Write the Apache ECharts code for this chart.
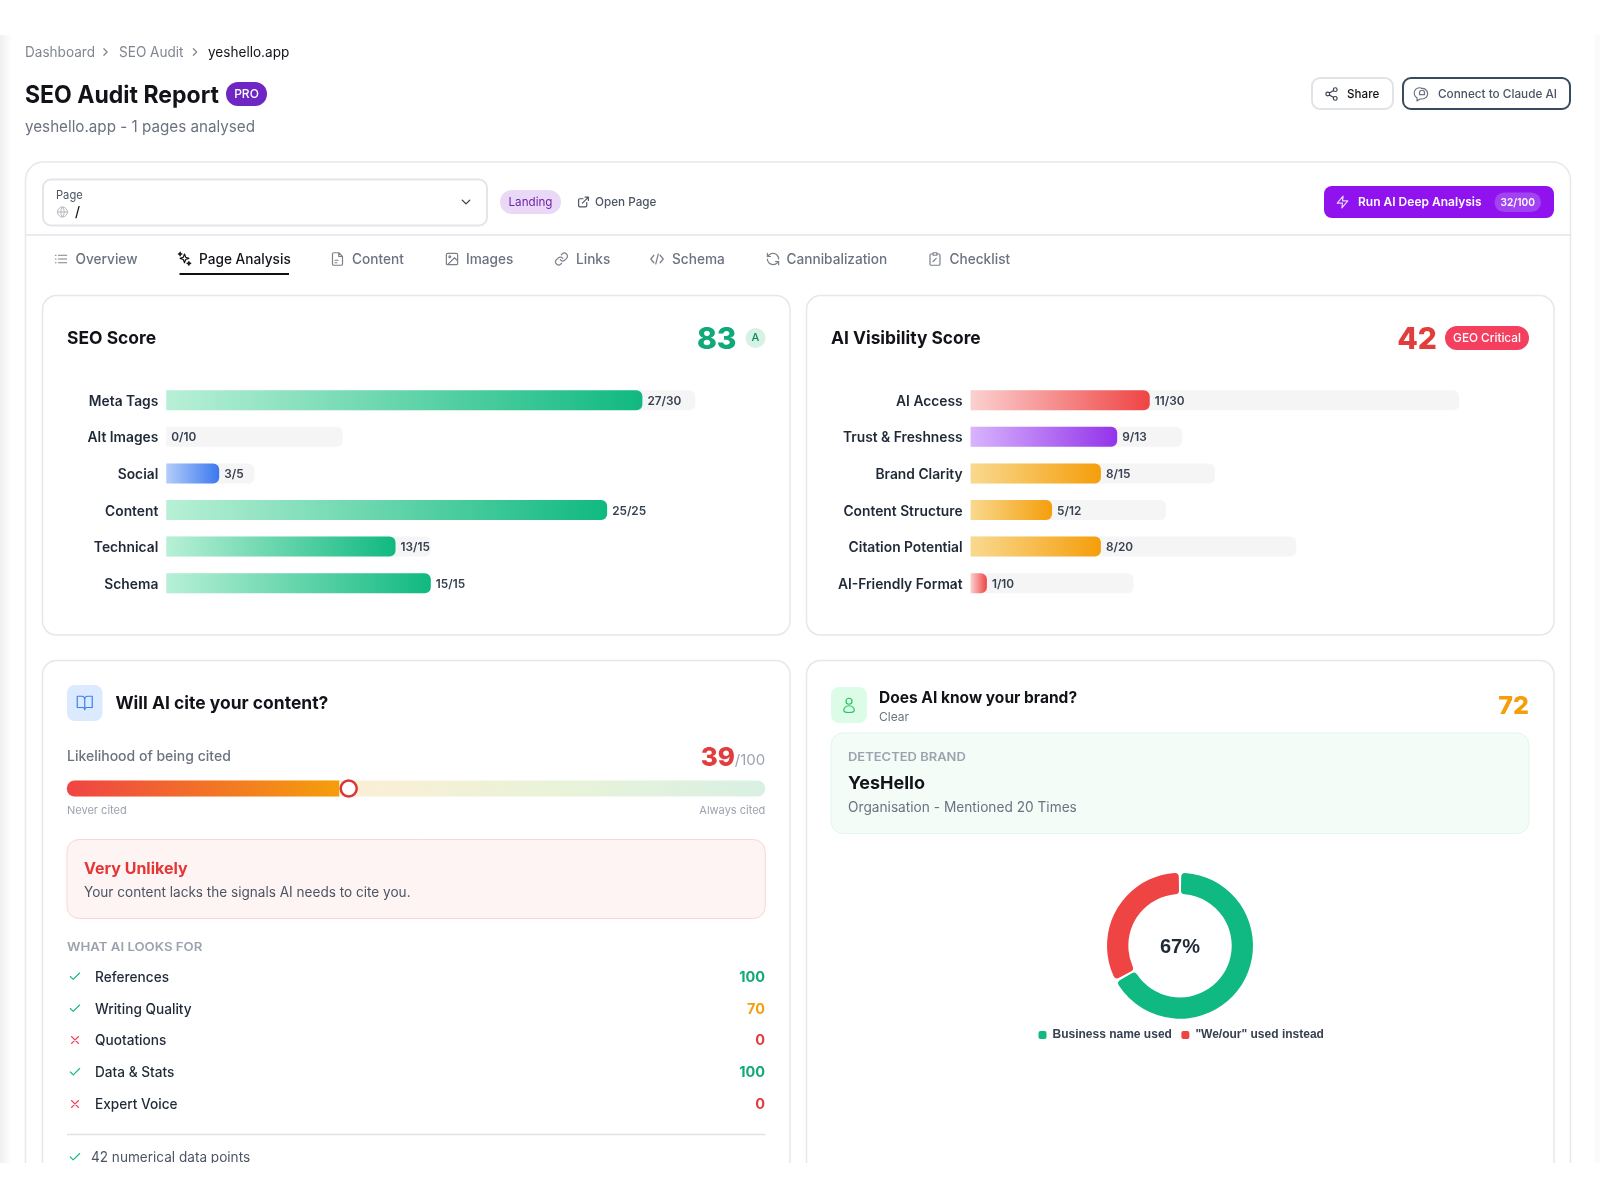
<!DOCTYPE html>
<html>
<head>
<meta charset="utf-8">
<title>SEO Audit Report</title>
<style>
  html, body { margin: 0; background: #fff; }
  #main { width: 1600px; height: 1200px; }
</style>
<script src="https://cdn.jsdelivr.net/npm/echarts@6/dist/echarts.min.js"></script>
</head>
<body>
<div id="main"></div>
<script>
// chart data
const seoCategories = ['Meta Tags', 'Alt Images', 'Social', 'Content', 'Technical', 'Schema'];
const seoValues = [27, 0, 3, 25, 13, 15];
const seoMaxes = [30, 10, 5, 25, 15, 15];

const aiCategories = ['AI Access', 'Trust & Freshness', 'Brand Clarity', 'Content Structure', 'Citation Potential', 'AI-Friendly Format'];
const aiValues = [11, 9, 8, 5, 8, 1];
const aiMaxes = [30, 13, 15, 12, 20, 10];

const citeLikelihood = 39;
const citeScale = 100;

const signalNames = ['References', 'Writing Quality', 'Quotations', 'Data & Stats', 'Expert Voice'];
const signalScores = [100, 70, 0, 100, 0];

const brandNames = ['Business name used', '"We/our" used instead'];
const brandShares = [67, 33];

const tabNames = ['Overview', 'Page Analysis', 'Content', 'Images', 'Links', 'Schema', 'Cannibalization', 'Checklist'];

// bar colour per row
const seoRamps = ['green', 'green', 'blue', 'green', 'green', 'green'];
const aiRamps = ['red', 'purple', 'amber', 'amber', 'amber', 'red'];
const ramps = {
  green: ['#b8f0d6', '#10b981'],
  blue: ['#b3cdfa', '#3b78ee'],
  red: ['#fcd0d0', '#ef4444'],
  purple: ['#d8b4fe', '#9333ea'],
  amber: ['#f9d98f', '#f59e0b']
};

const SANS = 'Inter';
const ICONS = {
  chevronRight: 'M9 18l6-6-6-6',
  chevronDown: 'M6 9l6 6 6-6',
  share: 'M21 5a3 3 0 1 1-6 0 3 3 0 0 1 6 0z M9 12a3 3 0 1 1-6 0 3 3 0 0 1 6 0z M21 19a3 3 0 1 1-6 0 3 3 0 0 1 6 0z M8.6 13.5l6.8 4 M15.4 6.5l-6.8 4',
  chat: 'M21 11.5a8.5 8.5 0 0 1-8.5 8.5H9l-5 3v-5a8.5 8.5 0 0 1 8-15 8.5 8.5 0 0 1 9 8.5z M8 10a4 4 0 0 1 8 0v3H8z',
  globe: 'M22 12a10 10 0 1 1-20 0 10 10 0 0 1 20 0z M2 12h20 M12 2a15 15 0 0 1 0 20 M12 2a15 15 0 0 0 0 20',
  external: 'M18 13v6a2 2 0 0 1-2 2H5a2 2 0 0 1-2-2V8a2 2 0 0 1 2-2h6 M15 3h6v6 M10 14L21 3',
  bolt: 'M13 2L3 14h9l-1 8 10-12h-9l1-8z',
  list: 'M8 6h13 M8 12h13 M8 18h13 M3 6h1 M3 12h1 M3 18h1',
  sparkles: 'M12 4l1.9 5.1L19 11l-5.1 1.9L12 18l-1.9-5.1L5 11l5.1-1.9z M19 16l.8 2.2 2.2.8-2.2.8L19 22l-.8-2.2-2.2-.8 2.2-.8z M5 1l.8 2.2L8 4l-2.2.8L5 7l-.8-2.2L2 4l2.2-.8z',
  file: 'M14 2H6a2 2 0 0 0-2 2v16a2 2 0 0 0 2 2h12a2 2 0 0 0 2-2V8z M14 2v6h6 M8 14h5 M8 18h3',
  image: 'M5 3h14a2 2 0 0 1 2 2v14a2 2 0 0 1-2 2H5a2 2 0 0 1-2-2V5a2 2 0 0 1 2-2z M21 15l-5-5L5 21 M10 8.5a1.5 1.5 0 1 1-3 0 1.5 1.5 0 0 1 3 0z',
  link: 'M10 13a5 5 0 0 0 7.5.5l3-3a5 5 0 0 0-7-7l-1.7 1.7 M14 11a5 5 0 0 0-7.5-.5l-3 3a5 5 0 0 0 7 7l1.7-1.7',
  code: 'M17 18l5-6-5-6 M7 6l-5 6 5 6 M14 4l-4 16',
  refresh: 'M21 12a9 9 0 0 0-15-6.7L3 8 M3 3v5h5 M3 12a9 9 0 0 0 15 6.7l3-2.7 M21 21v-5h-5',
  clipboard: 'M9 2h6v4H9z M16 4h2a2 2 0 0 1 2 2v14a2 2 0 0 1-2 2H6a2 2 0 0 1-2-2V6a2 2 0 0 1 2-2h2 M9 16l5-5',
  book: 'M2 3h6a4 4 0 0 1 4 4v14a3 3 0 0 0-3-3H2z M22 3h-6a4 4 0 0 0-4 4v14a3 3 0 0 1 3-3h7z',
  user: 'M16 7a4 4 0 1 1-8 0 4 4 0 0 1 8 0z M12 13c-4 0-7 3-7 6 0 2 3 3 7 3s7-1 7-3c0-3-3-6-7-6z',
  check: 'M20 6L9 17l-5-5',
  cross: 'M18 6L6 18 M6 6l12 12'
};
// graphic has no path element, so every icon is registered as a shape
Object.keys(ICONS).forEach(name => {
  echarts.graphic.registerShape('icon_' + name, echarts.graphic.extendPath(ICONS[name], {}));
});

// graphic helpers for the page around the charts
// the screenshot font is a touch tighter than the installed Inter, hence the default scaleX
function text(str, x, y, size, weight, fill, opts) {
  opts = opts || {};
  return {
    type: 'text', x: x, y: y + size * 0.09, z: 5, scaleX: opts.scaleX || 0.97,
    style: {
      text: str, fill: fill,
      font: weight + ' ' + size + 'px ' + (opts.family || SANS),
      align: opts.align || 'left', verticalAlign: 'middle',
      textAlign: opts.align || 'left', textVerticalAlign: 'middle'
    }
  };
}
function box(x, y, x2, y2, r, fill, stroke, lineWidth) {
  return {
    type: 'rect', z: 1,
    shape: { x: x, y: y, width: x2 - x, height: y2 - y, r: r },
    style: { fill: fill || '#fff', stroke: stroke || 'none', lineWidth: lineWidth || 0 }
  };
}
function hline(x, x2, y, color, width) {
  return { type: 'line', z: 1, shape: { x1: x, y1: y, x2: x2, y2: y }, style: { stroke: color, lineWidth: width } };
}
function icon(name, cx, cy, size, color, lineWidth) {
  const s = size / 24;
  return {
    type: 'icon_' + name, z: 5,
    x: cx - size / 2, y: cy - size / 2, scaleX: s, scaleY: s,
    style: { fill: 'none', stroke: color, lineWidth: (lineWidth || 1.2) / s, lineCap: 'round', lineJoin: 'round' }
  };
}

const GREY = '#6b7280';
const INK = '#111318';
const LINE = '#e5e7eb';
const GREEN = '#10a97a';
const RED = '#e23d3d';
const AMBER = '#f59e0b';
const SCORE_COLOR = v => (v >= 100 ? GREEN : v > 0 ? AMBER : RED);

const els = [];

// page edge shading
els.push({
  type: 'rect', z: 0, shape: { x: 0, y: 35, width: 12, height: 1128 },
  style: { fill: new echarts.graphic.LinearGradient(0, 0, 1, 0, [{ offset: 0, color: '#efefef' }, { offset: 1, color: '#ffffff' }]) }
});
els.push({ type: 'rect', z: 0, shape: { x: 1595, y: 35, width: 5, height: 1128 }, style: { fill: '#fafafa' } });

// breadcrumb
els.push(text('Dashboard', 25, 52, 14, 400, '#808690'));
els.push(icon('chevronRight', 105.5, 52, 13, '#808690'));
els.push(text('SEO Audit', 119, 52, 14, 400, '#808690'));
els.push(icon('chevronRight', 195, 52, 13, '#808690'));
els.push(text('yeshello.app', 208, 52, 14, 400, INK));

// heading
els.push(text('SEO Audit Report', 25, 94, 24, 700, INK, { scaleX: 0.96 }));
els.push(box(226, 82, 267, 106, 12, '#6f27c4'));
els.push(text('PRO', 246.5, 93, 12, 500, '#fff', { align: 'center', scaleX: 1 }));
els.push(text('yeshello.app - 1 pages analysed', 25, 125.5, 16, 400, GREY, { scaleX: 0.95 }));

els.push(box(1312, 78, 1393, 109, 8, '#fff', '#e1e3e7', 2));
els.push(icon('share', 1331.5, 94, 15, '#374151'));
els.push(text('Share', 1347, 93, 12, 500, INK));
els.push(box(1403, 78, 1570, 109, 8, '#fff', '#374a5f', 2));
els.push(icon('chat', 1422, 94, 15, GREY));
els.push(text('Connect to Claude AI', 1438, 93, 12, 500, '#4b5563', { scaleX: 0.98 }));

// main panel
els.push(box(25.5, 162, 1570.5, 1300, 18, '#fff', '#e6e8eb', 1.5));
els.push(hline(25.5, 1570.5, 235, '#e3e5e8', 1.5));
els.push(box(43, 179.5, 487, 225.5, 8, '#fff', '#e3e5e8', 2));
els.push(text('Page', 56, 195, 11.5, 400, '#4b5563'));
els.push(icon('globe', 62.5, 212, 12, '#b4b8be', 1));
els.push(text('/', 75, 212, 14, 500, INK));
els.push(icon('chevronDown', 466, 202, 15, '#374151', 1.4));
els.push(box(500, 190, 561, 214, 12, '#ead9f6'));
els.push(text('Landing', 530.5, 201.3, 12, 400, '#6b21a8', { align: 'center' }));
els.push(icon('external', 583.5, 202, 13, '#4b5563'));
els.push(text('Open Page', 595, 201, 12, 500, '#4b5563', { scaleX: 0.975 }));
els.push(box(1324, 186, 1554, 218, 8, '#9012ee'));
els.push(icon('bolt', 1342.5, 202, 14, '#e9d5ff'));
els.push(text('Run AI Deep Analysis', 1358, 201.5, 12, 600, '#fff', { scaleX: 1 }));
els.push(box(1494.5, 192.5, 1541, 212, 10, '#a243f1'));
els.push(text('32/100', 1517.75, 201.7, 10.5, 600, '#fff', { align: 'center' }));

// tabs
const tabIcons = ['list', 'sparkles', 'file', 'image', 'link', 'code', 'refresh', 'clipboard'];
const tabIconX = [61, 184.5, 337.5, 452, 561.5, 657, 773, 935];
const tabTextX = [75.5, 199, 352, 466, 576, 672, 786.5, 949.5];
tabNames.forEach((name, i) => {
  const active = i === 1;
  els.push(icon(tabIcons[i], tabIconX[i], 259, 15, active ? INK : '#7b818b'));
  els.push(text(name, tabTextX[i], 258.3, 14, 500, active ? INK : GREY, { scaleX: 0.975 }));
});
els.push(hline(179.5, 289, 274, '#111', 2));

// SEO score card
els.push(box(42.5, 295.5, 790, 635, 14, '#fff', LINE, 1.5));
els.push(text('SEO Score', 67, 337, 18, 700, INK, { scaleX: 0.97 }));
els.push(text('83', 736.5, 337.5, 30, 800, GREEN, { align: 'right', scaleX: 1 }));
els.push({ type: 'circle', z: 1, shape: { cx: 755.5, cy: 338, r: 10 }, style: { fill: '#d5f2e4' } });
els.push(text('A', 755.5, 337, 11, 500, '#0f8a5f', { align: 'center', scaleX: 1 }));

// AI visibility card
els.push(box(806.5, 295.5, 1554, 635, 14, '#fff', LINE, 1.5));
els.push(text('AI Visibility Score', 831, 337, 18, 700, INK, { scaleX: 0.965 }));
els.push(text('42', 1437, 337.5, 30, 800, RED, { align: 'right', scaleX: 1 }));
els.push(box(1445, 326, 1529, 350, 12, '#f43f5e'));
els.push(text('GEO Critical', 1487, 337, 12, 500, '#fff', { align: 'center', scaleX: 0.98 }));

// citation card
els.push(box(42.5, 660.5, 790, 1300, 14, '#fff', LINE, 1.5));
els.push(box(67, 685, 102.5, 721, 8, '#dbeafe'));
els.push(icon('book', 84.75, 703, 18, '#3b82f6'));
els.push(text('Will AI cite your content?', 115.5, 702, 18, 700, INK));
els.push(text('Likelihood of being cited', 67, 756, 14, 500, GREY, { scaleX: 1 }));
els.push(text(String(citeLikelihood), 735, 756, 26, 800, RED, { align: 'right', scaleX: 1 }));
els.push(text('/' + citeScale, 765.3, 759.5, 15, 400, '#9ca3af', { align: 'right', scaleX: 1 }));
els.push(text('Never cited', 67, 810, 11, 400, '#9ca3af', { scaleX: 1 }));
els.push(text('Always cited', 765.3, 810, 11, 400, '#9ca3af', { align: 'right', scaleX: 1 }));
els.push(box(67, 839.5, 765.3, 918.5, 12, '#fef4f4', '#fbd5d5', 1));
els.push(text('Very Unlikely', 84, 867.5, 16, 700, '#e53535', { scaleX: 1 }));
els.push(text('Your content lacks the signals AI needs to cite you.', 84, 892, 14, 400, '#4b5563'));
els.push(text('WHAT AI LOOKS FOR', 67, 946, 12, 600, '#9ca3af', { scaleX: 1.1 }));
const signalY = [976.5, 1008.5, 1040, 1072, 1104];
signalNames.forEach((name, i) => {
  const ok = signalScores[i] > 0;
  els.push(icon(ok ? 'check' : 'cross', 75, signalY[i], 14, ok ? '#10b981' : '#f43f5e', 1.1));
  els.push(text(name, 95, signalY[i], 14, 500, '#1f2937', { scaleX: 0.975 }));
  els.push(text(String(signalScores[i]), 765, signalY[i] - 0.5, 14.5, 700, SCORE_COLOR(signalScores[i]), { align: 'right', scaleX: 1 }));
});
els.push(hline(67, 765.3, 1134.5, '#dfe1e5', 1.5));
els.push(icon('check', 75, 1157, 14, '#10b981', 1.1));
els.push(text('42 numerical data points', 91, 1157, 14, 400, '#4b5563'));

// brand card
els.push(box(806.5, 660.5, 1554, 1300, 14, '#fff', LINE, 1.5));
els.push(box(831, 687, 867, 723, 8, '#dcfce7'));
els.push(icon('user', 849, 705, 18, '#22c55e'));
els.push(text('Does AI know your brand?', 879, 696.6, 16, 700, INK, { scaleX: 0.97 }));
els.push(text('Clear', 879, 716, 12, 400, GREY, { scaleX: 1 }));
els.push(text('72', 1529, 704, 25, 800, AMBER, { align: 'right', scaleX: 1 }));
els.push(box(831, 733, 1529, 833.5, 12, '#f3fcf7', '#e2f7ec', 1));
els.push(text('DETECTED BRAND', 848, 756.3, 12, 600, '#9ca3af', { scaleX: 1.08 }));
els.push(text('YesHello', 848, 782, 18, 700, INK, { scaleX: 1 }));
els.push(text('Organisation - Mentioned 20 Times', 848, 806.3, 14, 400, GREY, { scaleX: 0.978 }));
els.push(text(brandShares[0] + '%', 1180, 945.7, 20, 700, '#1f2937', { align: 'center', scaleX: 1, family: 'Liberation Sans' }));

// the screenshot is cut off here
els.push({ type: 'rect', z: 50, shape: { x: 0, y: 1163, width: 1600, height: 37 }, style: { fill: '#fff' } });

function ramp(name) {
  return new echarts.graphic.LinearGradient(0, 0, 1, 0, [
    { offset: 0, color: ramps[name][0] },
    { offset: 1, color: ramps[name][1] }
  ]);
}

function scoreSeries(axis, values, maxes, colours) {
  const label = p => values[p.dataIndex] + '/' + maxes[p.dataIndex];
  return [
    {
      type: 'bar', xAxisIndex: axis, yAxisIndex: axis, barWidth: 20, silent: true,
      data: maxes,
      itemStyle: { color: '#f5f5f6', borderRadius: [0, 6, 6, 0] }
    },
    {
      type: 'bar', xAxisIndex: axis, yAxisIndex: axis, barWidth: 20, barGap: '-100%', silent: true,
      data: values.map((v, i) => ({ value: v, itemStyle: { color: ramp(colours[i]) } })),
      itemStyle: { borderRadius: [0, 6, 6, 0] },
      label: {
        show: true, position: 'right', distance: 5, formatter: label, offset: [0, 1],
        fontFamily: SANS, fontSize: 11.8, fontWeight: 600, color: '#374151'
      }
    }
  ];
}

function categoryAxis(index, data) {
  return {
    type: 'category', gridIndex: index, inverse: true, data: data, z: 3,
    axisLine: { show: false }, axisTick: { show: false },
    axisLabel: {
      margin: 8, formatter: '{name|{value}}',
      rich: { name: { padding: [3, 0, 0, 0], fontFamily: SANS, fontSize: 13.8, fontWeight: 600, color: '#1f2937' } }
    }
  };
}
function valueAxis(index, max) {
  return { type: 'value', gridIndex: index, min: 0, max: max, show: false, splitLine: { show: false } };
}

const chart = echarts.init(document.getElementById('main'));
chart.setOption({
  animation: false,
  backgroundColor: '#fff',
  graphic: { elements: els },
  grid: [
    { left: 166.3, top: 381.9, width: 529, height: 219.6, containLabel: false },
    { left: 970.6, top: 381.9, width: 488.6, height: 219.6, containLabel: false },
    { left: 66.8, top: 780.5, width: 698.5, height: 16, containLabel: false }
  ],
  xAxis: [valueAxis(0, 30), valueAxis(1, 30), valueAxis(2, citeScale)],
  yAxis: [
    categoryAxis(0, seoCategories),
    categoryAxis(1, aiCategories),
    { type: 'category', gridIndex: 2, data: ['Likelihood'], show: false }
  ],
  legend: {
    left: 1038.5, top: 1029, itemWidth: 8, itemHeight: 8, itemGap: 9.5, icon: 'roundRect',
    padding: 0, selectedMode: false, data: brandNames,
    textStyle: { fontFamily: 'Liberation Sans', fontSize: 12, fontWeight: 'bold', color: '#374151', padding: [0, 0, 0, 1] }
  },
  series: [
    ...scoreSeries(0, seoValues, seoMaxes, seoRamps),
    ...scoreSeries(1, aiValues, aiMaxes, aiRamps),
    {
      type: 'bar', xAxisIndex: 2, yAxisIndex: 2, barWidth: 16, silent: true,
      data: [citeScale],
      itemStyle: {
        borderRadius: 8,
        color: new echarts.graphic.LinearGradient(0, 0, 1, 0, [
          { offset: 0, color: '#fde3da' },
          { offset: 0.4, color: '#fcefd6' },
          { offset: 0.7, color: '#e9f3d8' },
          { offset: 1, color: '#d8f0e3' }
        ])
      }
    },
    {
      type: 'bar', xAxisIndex: 2, yAxisIndex: 2, barWidth: 16, barGap: '-100%', silent: true,
      data: [citeLikelihood],
      itemStyle: {
        borderRadius: [8, 0, 0, 8],
        color: new echarts.graphic.LinearGradient(0, 0, 1, 0, [
          { offset: 0, color: '#ef4444' },
          { offset: 1, color: '#f59e0b' }
        ])
      }
    },
    {
      type: 'scatter', xAxisIndex: 2, yAxisIndex: 2, z: 4, silent: true,
      data: [[citeLikelihood, 0]], symbolSize: 16, symbolOffset: [9.5, 0],
      itemStyle: { color: '#fff', opacity: 1, borderColor: '#dc3535', borderWidth: 2.5 }
    },
    {
      type: 'pie', center: [1180, 945.7], radius: [51.7, 73], startAngle: 90, clockwise: true,
      padAngle: 2, silent: true,
      itemStyle: { borderRadius: 4 },
      label: { show: false },
      labelLine: { show: false },
      data: brandNames.map((name, i) => ({
        name: name, value: brandShares[i],
        itemStyle: { color: i === 0 ? '#10b981' : '#ef4444' }
      }))
    }
  ]
});
</script>
</body>
</html>
